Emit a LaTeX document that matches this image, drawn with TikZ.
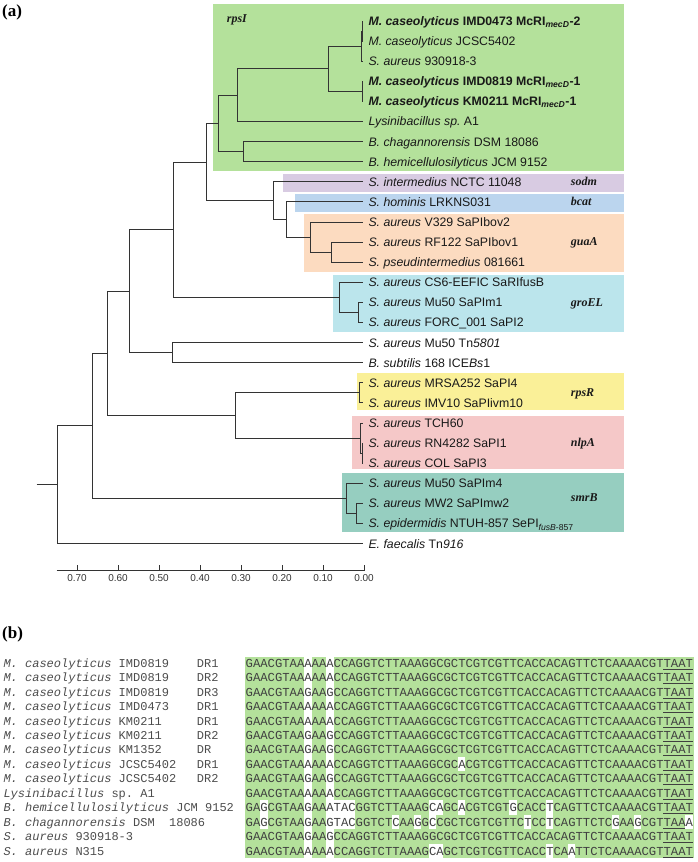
\documentclass[tikz,border=0pt]{standalone}
\usepackage{fontspec}
\setmainfont{Liberation Sans}
\newfontfamily\fserif{Liberation Serif}
\newfontfamily\fmono{Liberation Mono}

\definecolor{cverde}{RGB}{180,225,155}
\definecolor{clila}{RGB}{216,203,226}
\definecolor{cazul}{RGB}{187,213,238}
\definecolor{cnaranja}{RGB}{252,219,192}
\definecolor{ccian}{RGB}{187,229,236}
\definecolor{camarillo}{RGB}{250,240,152}
\definecolor{crosa}{RGB}{245,200,200}
\definecolor{cturquesa}{RGB}{150,206,192}

\tikzset{
  rama/.style={draw=black!80, line width=1pt},
  hoja/.style={anchor=base west, inner sep=0pt, text=black!90,
    font=\fontsize{12.3}{14}\selectfont},
  gen/.style={anchor=base west, inner sep=0pt, text=black!90,
    font=\fserif\bfseries\itshape\fontsize{12}{14}\selectfont},
  escala/.style={anchor=north, inner sep=0pt, text=black!80,
    font=\fontsize{10}{12}\selectfont},
  panel/.style={anchor=base west, inner sep=0pt,
    font=\fserif\bfseries\fontsize{17}{20}\selectfont},
  etiqueta/.style={anchor=base west, inner sep=0pt, text=black!70,
    font=\fmono\fontsize{12}{14}\selectfont},
  secuencia/.style={anchor=base west, inner sep=0pt, text=black!75,
    font=\fmono\fontsize{12.22}{14}\selectfont},
  subrayado/.style={draw=black!75, line width=0.6pt},
}

\begin{document}
\frenchspacing
\begin{tikzpicture}[x=1pt,y=-1pt]
  % Marco de la figura
  \useasboundingbox (0,0) rectangle (697,862);

  % Letras de los paneles
  \node[panel] (pa) at (2,16.5) {(a)};
  \node[panel] (pb) at (2,638.5) {(b)};

  % Cajas de color de cada grupo
  \fill[cverde] (212.7,3.5) rectangle (624,170.7);
  \fill[clila] (282.7,174) rectangle (624,191.7);
  \fill[cazul] (295,194) rectangle (624,211.7);
  \fill[cnaranja] (304,214.3) rectangle (624,271.7);
  \fill[ccian] (333.3,275) rectangle (624,332.3);
  \fill[camarillo] (356.7,372.7) rectangle (624,410);
  \fill[crosa] (351.7,416) rectangle (624,469);
  \fill[cturquesa] (341.7,473.3) rectangle (624,531.7);

  % Nombres de los genes
  \node[gen] (g1) at (226.7,22.5) {rpsI};
  \node[gen] (g2) at (570.7,185.5) {sodm};
  \node[gen] (g3) at (570.7,205.5) {bcat};
  \node[gen] (g4) at (570.7,245.5) {guaA};
  \node[gen] (g5) at (570.7,306.5) {groEL};
  \node[gen] (g6) at (570.7,396.5) {rpsR};
  \node[gen] (g7) at (570.7,446.5) {nlpA};
  \node[gen] (g8) at (570.7,501.5) {smrB};

  % Hojas del arbol
  \foreach \i in {0,...,26}
    \coordinate (l\i) at (363.3,{21+20.1*\i});

  % Nodos internos
  \coordinate (n01) at (362,31.05);
  \coordinate (nA) at (361,46.1);
  \coordinate (n34) at (362,91.35);
  \coordinate (nB) at (328,68.7);
  \coordinate (nC) at (237.7,95.1);
  \coordinate (nD) at (243.3,151.65);
  \coordinate (nE) at (218.3,123.4);
  \coordinate (nJ) at (331,252.15);
  \coordinate (nI) at (310,237.1);
  \coordinate (nH) at (286.7,219.5);
  \coordinate (nG) at (273.3,200.65);
  \coordinate (nF) at (206,162);
  \coordinate (nL) at (358.3,312.45);
  \coordinate (nK) at (339.3,297.4);
  \coordinate (nM) at (173.3,229.7);
  \coordinate (nN) at (172.3,352.65);
  \coordinate (nO) at (129.3,291.2);
  \coordinate (nP) at (359.3,392.85);
  \coordinate (nQb) at (362,453.15);
  \coordinate (nQ) at (360,438.1);
  \coordinate (nR) at (235,415.5);
  \coordinate (nS) at (107.3,353.35);
  \coordinate (nT2) at (356.7,513.45);
  \coordinate (nT) at (346.7,498.4);
  \coordinate (nU) at (92.7,425.9);
  \coordinate (nV) at (57.3,484.75);
  \coordinate (raiz) at (36.7,484.75);

  % Ramas
  \foreach \p/\h in {n01/l0,n01/l1,nA/n01,nA/l2,n34/l3,n34/l4,nB/nA,nB/n34,
      nC/nB,nC/l5,nD/l6,nD/l7,nE/nC,nE/nD,nJ/l11,nJ/l12,nI/l10,nI/nJ,
      nH/l9,nH/nI,nG/l8,nG/nH,nF/nE,nF/nG,nL/l14,nL/l15,nK/l13,nK/nL,
      nM/nF,nM/nK,nN/l16,nN/l17,nO/nM,nO/nN,nP/l18,nP/l19,nQb/l21,nQb/l22,
      nQ/l20,nQ/nQb,nR/nP,nR/nQ,nS/nO,nS/nR,nT2/l24,nT2/l25,nT/l23,nT/nT2,
      nU/nS,nU/nT,nV/nU,nV/l26}
    \draw[rama] (\p) |- (\h);
  \draw[rama] (raiz) -- (nV);

  % Nombres de las hojas
  \foreach \i/\txt in {
      0/{\textbf{\textit{M. caseolyticus} IMD0473 McRI\textsubscript{\textit{mecD}}-2}},
      1/{\textit{M. caseolyticus} JCSC5402},
      2/{\textit{S. aureus} 930918-3},
      3/{\textbf{\textit{M. caseolyticus} IMD0819 McRI\textsubscript{\textit{mecD}}-1}},
      4/{\textbf{\textit{M. caseolyticus} KM0211 McRI\textsubscript{\textit{mecD}}-1}},
      5/{\textit{Lysinibacillus sp.} A1},
      6/{\textit{B. chagannorensis} DSM 18086},
      7/{\textit{B. hemicellulosilyticus} JCM 9152},
      8/{\textit{S. intermedius} NCTC 11048},
      9/{\textit{S. hominis} LRKNS031},
      10/{\textit{S. aureus} V329 SaPIbov2},
      11/{\textit{S. aureus} RF122 SaPIbov1},
      12/{\textit{S. pseudintermedius} 081661},
      13/{\textit{S. aureus} CS6-EEFIC SaRIfusB},
      14/{\textit{S. aureus} Mu50 SaPIm1},
      15/{\textit{S. aureus} FORC\_001 SaPI2},
      16/{\textit{S. aureus} Mu50 Tn\textit{5801}},
      17/{\textit{B. subtilis} 168 ICE\textit{Bs}1},
      18/{\textit{S. aureus} MRSA252 SaPI4},
      19/{\textit{S. aureus} IMV10 SaPIivm10},
      20/{\textit{S. aureus} TCH60},
      21/{\textit{S. aureus} RN4282 SaPI1},
      22/{\textit{S. aureus} COL SaPI3},
      23/{\textit{S. aureus} Mu50 SaPIm4},
      24/{\textit{S. aureus} MW2 SaPImw2},
      25/{\textit{S. epidermidis} NTUH-857 SePI\textsubscript{\textit{fusB}-857}},
      26/{\textit{E. faecalis} Tn\textit{916}}}
    \node[hoja] (t\i) at ([xshift=5pt,yshift=-4.4pt]l\i) {\txt};

  % Escala de distancias
  \coordinate (e0) at (364,570);
  \coordinate (e1) at (56.7,570);
  \draw[rama] (e1) -- (e0);
  \foreach \k/\v in {0/0.00,1/0.10,2/0.20,3/0.30,4/0.40,5/0.50,6/0.60,7/0.70} {
    \draw[rama] ({364-41*\k},565) -- ++(0,5.5);
    \node[escala] (m\k) at ({364-41*\k},574) {\v};
  }

  % Alineamiento: fondo verde y huecos
  \fill[cverde] (245,656.5) rectangle (694,858);
  \foreach \c in {9,12}
    \fill[white] ({245.5+(\c-1)*7.333},656.5) rectangle ++(7.333,201.5);
  \foreach \k/\c in {7/30,10/3,10/13,10/14,10/15,10/26,10/27,10/30,10/37,10/42,
      11/3,11/13,11/14,11/15,11/21,11/24,11/26,11/39,11/42,11/51,11/54,11/61,
      13/26,13/27,13/42,13/45}
    \fill[white] ({245.5+(\c-1)*7.333},{655.775+14.45*\k}) rectangle ++(7.333,14.45);

  % Nombres de las secuencias
  \foreach \k/\nom/\dr in {
      0/{\textit{M. caseolyticus} IMD0819}/DR1,
      1/{\textit{M. caseolyticus} IMD0819}/DR2,
      2/{\textit{M. caseolyticus} IMD0819}/DR3,
      3/{\textit{M. caseolyticus} IMD0473}/DR1,
      4/{\textit{M. caseolyticus} KM0211}/DR1,
      5/{\textit{M. caseolyticus} KM0211}/DR2,
      6/{\textit{M. caseolyticus} KM1352}/DR,
      7/{\textit{M. caseolyticus} JCSC5402}/DR1,
      8/{\textit{M. caseolyticus} JCSC5402}/DR2} {
    \node[etiqueta] (s\k) at (3.3,{667.2+14.45*\k}) {\nom};
    \node[etiqueta] (d\k) at (196.7,{667.2+14.45*\k}) {\dr};
  }
  \foreach \k/\nom in {
      9/{\textit{Lysinibacillus} sp. A1},
      10/{\textit{B. hemicellulosilyticus} JCM 9152},
      11/{\textit{B. chagannorensis} DSM~~18086},
      12/{\textit{S. aureus} 930918-3},
      13/{\textit{S. aureus} N315}}
    \node[etiqueta] (s\k) at (3.3,{667.2+14.45*\k}) {\nom};

  % Secuencias
  \foreach \k/\seq in {
      0/GAACGTAAAAAACCAGGTCTTAAAGGCGCTCGTCGTTCACCACAGTTCTCAAAACGTTAAT,
      1/GAACGTAAAAAACCAGGTCTTAAAGGCGCTCGTCGTTCACCACAGTTCTCAAAACGTTAAT,
      2/GAACGTAAGAAGCCAGGTCTTAAAGGCGCTCGTCGTTCACCACAGTTCTCAAAACGTTAAT,
      3/GAACGTAAAAAACCAGGTCTTAAAGGCGCTCGTCGTTCACCACAGTTCTCAAAACGTTAAT,
      4/GAACGTAAAAAACCAGGTCTTAAAGGCGCTCGTCGTTCACCACAGTTCTCAAAACGTTAAT,
      5/GAACGTAAGAAGCCAGGTCTTAAAGGCGCTCGTCGTTCACCACAGTTCTCAAAACGTTAAT,
      6/GAACGTAAGAAGCCAGGTCTTAAAGGCGCTCGTCGTTCACCACAGTTCTCAAAACGTTAAT,
      7/GAACGTAAAAAACCAGGTCTTAAAGGCGCACGTCGTTCACCACAGTTCTCAAAACGTTAAT,
      8/GAACGTAAGAAGCCAGGTCTTAAAGGCGCTCGTCGTTCACCACAGTTCTCAAAACGTTAAT,
      9/GAACGTAAAAAACCAGGTCTTAAAGGCGCTCGTCGTTCACCACAGTTCTCAAAACGTTAAT,
      10/GAGCGTAAGAAATACGGTCTTAAAGCAGCACGTCGTGCACCTCAGTTCTCAAAACGTTAAT,
      11/GAGCGTAAGAAGTACGGTCTCAAGGCCGCTCGTCGTTCTCCTCAGTTCTCGAAGCGTTAAA,
      12/GAACGTAAGAAGCCAGGTCTTAAAGGCGCTCGTCGTTCACCACAGTTCTCAAAACGTTAAT,
      13/GAACGTAAAAAACCAGGTCTTAAAGCAGCTCGTCGTTCACCTCAATTCTCAAAACGTTAAT} {
    \node[secuencia] (q\k) at (245.5,{667.2+14.45*\k}) {\seq};
  }

  % Subrayado del final
  \foreach \k in {0,...,10,12,13}
    \draw[subrayado] ({245.5+57*7.333},{669+14.45*\k}) -- ++(29.3,0);
  \draw[subrayado] ({245.5+57*7.333},{669+14.45*11}) -- ++(22,0);

\end{tikzpicture}
\end{document}
